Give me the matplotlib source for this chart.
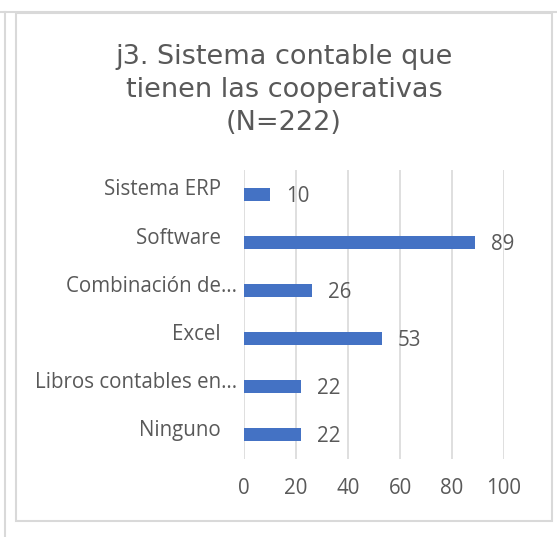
import matplotlib.pyplot as plt
from matplotlib.lines import Line2D
from matplotlib.patches import Rectangle

# datos
categorias = ["Sistema ERP   ", "Software   ", "Combinación de…", "Excel   ",
              "Libros contables en…", "Ninguno   "]
valores = [10, 89, 26, 53, 22, 22]
ticks_x = [0, 20, 40, 60, 80, 100]
titulo = "j3. Sistema contable que\ntienen las cooperativas\n(N=222)"

AZUL = "#4472C4"
GRIS_TXT = "#595959"
GRIS_LIN = "#D9D9D9"
W, H = 557, 537
FS = 14.8

fig = plt.figure(figsize=(W / 100, H / 100), dpi=100)
fig.patch.set_facecolor("white")

# marco del gráfico y líneas de la hoja
fig.add_artist(Rectangle((16 / W, 1 - 521 / H), (552 - 16) / W, (521 - 13) / H,
                         transform=fig.transFigure, fill=False,
                         edgecolor=GRIS_LIN, linewidth=1.5))
fig.add_artist(Line2D([0, 1], [1 - 12 / H] * 2, transform=fig.transFigure,
                      color=GRIS_LIN, linewidth=1.5))
fig.add_artist(Line2D([5 / W] * 2, [0, 1 - 12 / H], transform=fig.transFigure,
                      color=GRIS_LIN, linewidth=1.5))

ax = fig.add_axes([244 / W, 1 - 459 / H, (504 - 244) / W, (459 - 170) / H])
y = list(range(len(categorias)))
ax.barh(y, valores, height=0.27, color=AZUL, zorder=3)
ax.set_ylim(len(categorias) - 0.5, -0.5)
ax.set_xlim(0, 100)
ax.set_xticks(ticks_x)
ax.set_xticklabels([str(t) for t in ticks_x], family="Open Sans",
                   fontsize=FS, color=GRIS_TXT)
ax.set_yticks([])
ax.tick_params(axis="x", length=0, pad=13.5)
ax.grid(axis="x", color=GRIS_LIN, linewidth=1.2, zorder=0)
for s in ax.spines.values():
    s.set_visible(False)

# etiquetas de categoría (un poco por encima del centro de la barra)
for yi, cat in zip(y, categorias):
    ax.annotate(cat, (0, yi), xycoords=("axes fraction", "data"),
                xytext=(-5, 3), textcoords="offset points",
                ha="right", va="center", family="Open Sans", fontsize=FS,
                color=GRIS_TXT)

for yi, v in zip(y, valores):
    ax.annotate(str(v), (v, yi), xytext=(11.5, -1.5), textcoords="offset points",
                ha="left", va="center", family="Open Sans", fontsize=FS,
                color=GRIS_TXT)

fig.text(284 / W, 1 - 90 / H, titulo, ha="center", va="center",
         fontsize=19.5, color=GRIS_TXT, family="DejaVu Sans", linespacing=1.37)

fig.savefig("out.png", dpi=100)
